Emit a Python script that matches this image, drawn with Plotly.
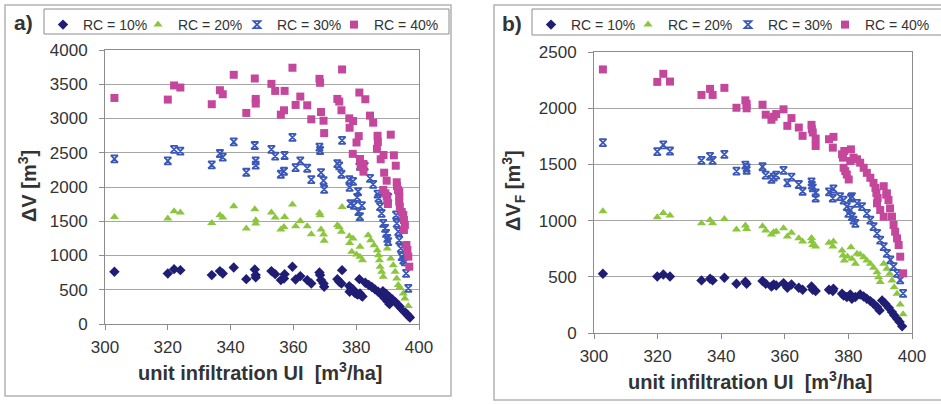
import plotly.graph_objects as go

# ---------------- data: panel a) dV ----------------
rc10_a_x = [303, 320, 322, 324, 334, 336.6, 337.5, 341, 345, 347.7, 348, 348, 353, 354.2, 356, 357, 357.2, 359.7,
            360.7, 362.2, 364.4, 365.7, 368.3, 368.5, 368.8, 369.6, 369.8, 374, 374.6, 375.3, 375.5, 377.8, 378.5,
            379, 377.9, 379.5, 380.1, 380.5, 381.2, 381.7, 382, 381, 382.9, 384, 385, 386, 387, 388, 389, 390,
            390.6, 388.5, 389.5, 390.5, 391.5, 392.5, 393.5, 394.3, 395.2, 396, 396.6, 397.1]
rc10_a_y = [762, 738, 801, 786, 714, 772, 738, 825, 655, 796, 714, 680, 772, 728, 641, 665, 728, 835,
            650, 699, 641, 592, 752, 714, 641, 592, 544, 655, 617, 592, 786, 553, 520,
            505, 471, 456, 440, 430, 447, 410, 400, 655, 602, 570, 540, 505, 470, 430, 380, 330,
            290, 480, 440, 400, 360, 320, 270, 230, 185, 150, 120, 95]

rc20_a_x = [303, 320, 322, 324, 334, 336.6, 337.5, 341, 345, 347.7, 348, 348, 353, 354.2, 356, 357, 357.2, 359.7,
            360.7, 362.2, 364.4, 365.7, 368.3, 368.5, 368.8, 369.6, 369.8, 374, 374.6, 375.3, 375.5, 377.8, 379,
            377.9, 381, 381.2, 378.6, 380.1, 381.2, 382, 383.8, 384.6, 385.7, 386.7, 387.1, 387.4, 387.6, 388.1,
            388.6, 389.9, 391, 391.8, 392.4, 392.9, 393.4, 393.9, 395, 395.5, 396.6]
rc20_a_y = [1563, 1539, 1646, 1626, 1476, 1587, 1553, 1718, 1393, 1675, 1514, 1466, 1626, 1553, 1379, 1417, 1563, 1743,
            1427, 1505, 1427, 1311, 1621, 1587, 1379, 1306, 1214, 1442, 1417, 1345, 1709, 1281, 1247,
            1184, 1529, 1126, 1053, 1014, 980, 932, 1296, 1223, 1150, 1078, 1005, 932, 835, 762,
            689, 1102, 956, 859, 762, 665, 568, 534, 447, 374, 262]

rc30_a_x = [303, 320, 322, 324, 334, 336.6, 337.5, 341, 345, 347.7, 348, 348, 353, 354.2, 356, 357, 357.2, 359.7,
            360.7, 362.2, 364.4, 365.7, 368.3, 368.5, 368.8, 369.6, 369.8, 374, 374.6, 375.3, 375.5, 377.8, 379,
            377.9, 381, 381.2, 380.6, 380.3, 382.7, 384.4, 385.4, 386.8, 387.1, 390.2, 378.2, 379.3, 380.7, 381.2,
            381.8, 387.6, 388.1, 388.6, 389.2, 389.5, 389.9, 390.2, 392.7, 392.9, 393.4, 393.7, 394.2, 394.5,
            395, 395.5, 395.9, 396.6]
rc30_a_y = [2411, 2381, 2548, 2523, 2323, 2489, 2435, 2660, 2215, 2606, 2381, 2318, 2548, 2450, 2186, 2230, 2460, 2724,
            2284, 2381, 2274, 2108, 2582, 2533, 2210, 2093, 1966, 2342, 2308, 2186, 2680, 2108, 2083,
            1995, 2386, 2303, 1931, 1848, 2303, 2127, 2039, 1897, 1839, 1848, 1757, 1733, 1640, 1567,
            1727, 1713, 1616, 1470, 1397, 1324, 1251, 1202, 1591, 1470, 1348, 1226, 1105, 983,
            934, 908, 740, 521]

rc40_a_x = [303, 320, 322, 324, 334, 336.6, 337.5, 341, 345, 347.7, 348, 348, 353, 354.2, 356, 357, 357.2, 359.7,
            360.7, 362.2, 364.4, 365.7, 368.3, 368.5, 368.8, 369.6, 369.8, 374, 374.6, 375.3, 375.5, 377.8, 379,
            377.9, 381, 380.8, 380.1, 378.9, 381.2, 382.3, 381.4, 382.3, 382.9, 384.4, 385.4, 386.8, 386.9, 386.6,
            387.8, 388.7, 388.9, 389.7, 391, 392, 392.6, 392.9, 393, 393.3, 388.6, 389.3, 389.7, 389.9, 390.1,
            393.7, 393.7, 393.7, 393.9, 394.5, 395, 395.2, 395.5, 395.2, 396, 396.3, 396.6, 396.9]
rc40_a_y = [3300, 3276, 3482, 3452, 3208, 3413, 3354, 3638, 3081, 3584, 3286, 3218, 3506, 3403, 3056, 3120, 3403, 3741,
            3198, 3320, 3193, 2988, 3579, 3521, 3095, 2968, 2787, 3286, 3247, 3120, 3716, 3002, 2963,
            2865, 3379, 2743, 2650, 2484, 2409, 2336, 2297, 2224, 3281, 3042, 2939, 2748, 2655, 2557,
            2405, 2467, 2209, 2092, 2764, 2463, 2311, 2069, 2015, 1956, 1956, 1908, 1869, 1810, 1752,
            1927, 1859, 1786, 1713, 1635, 1591, 1518, 1445, 1372, 1153, 1080, 983, 837]

# ---------------- data: panel b) dV_F ----------------
rc10_b_x = [302.8, 319.9, 321.8, 323.9, 333.8, 336.5, 337.3, 341, 344.8, 347.6, 348, 353, 354, 355.8, 356.5, 357.3,
            359.6, 360.8, 362.1, 364.4, 365.6, 368.4, 368.8, 369.7, 373.9, 375.3, 375.1, 378, 378.5, 379.5, 380.6,
            381.1, 382.2, 383.7, 384.8, 385.8, 386.9, 387.9, 389, 389.8, 390.6, 391.6, 392.7, 393.7, 394.4, 395.3,
            396.1, 396.9]
rc10_b_y = [527, 503, 521, 503, 468, 482, 468, 491, 438, 456, 438, 462, 438, 414, 432, 423,
            444, 402, 432, 402, 385, 414, 385, 373, 385, 394, 373, 349, 334, 320, 343,
            305, 320, 343, 325, 305, 284, 260, 231, 201, 290, 260, 225, 186, 157, 127,
            98, 59]

rc20_b_x = [302.8, 319.9, 321.8, 323.9, 333.8, 336.5, 337.3, 341, 344.8, 347.6, 348, 353, 354, 355.8, 356.5, 357.3,
            359.6, 360.8, 362.1, 364.4, 365.6, 368.4, 368.5, 368.8, 369.7, 373.9, 375.3, 375.1, 378, 378.3, 378.7,
            380.8, 379.7, 381.1, 382.2, 382.7, 383.7, 384.8, 385.8, 386.9, 387.9, 389, 389.5, 390, 391.1, 392.1,
            393, 393.7, 394.4, 395.3, 396.3, 397.2]
rc20_b_y = [1083, 1030, 1068, 1045, 977, 1006, 977, 1015, 920, 956, 926, 950, 911, 876, 897, 902,
            932, 858, 891, 843, 814, 846, 817, 784, 769, 802, 814, 769, 734, 689, 645,
            763, 680, 660, 615, 704, 698, 675, 645, 615, 580, 541, 497, 453, 615, 571,
            527, 468, 408, 349, 254, 166]

rc30_b_x = [302.8, 319.9, 321.8, 323.9, 333.8, 336.5, 337.3, 341, 344.8, 347.6, 348, 348, 353, 354, 355.8, 356.5,
            357.3, 359.6, 360.8, 362.1, 364.4, 365.6, 368.4, 368.5, 368.8, 369.7, 369.7, 373.9, 375.3, 375.1, 377.4,
            378.5, 379.5, 380.6, 380, 381.1, 381.6, 382.2, 380.8, 381.1, 382.7, 384.3, 385.8, 386.9, 387.9, 389,
            390, 391.1, 392.1, 393.2, 394.2, 395.3, 396.3, 397.2]
rc30_b_y = [1694, 1613, 1673, 1619, 1536, 1572, 1536, 1590, 1440, 1494, 1470, 1446, 1479, 1404, 1366, 1387,
            1404, 1446, 1336, 1387, 1321, 1261, 1345, 1315, 1291, 1246, 1201, 1255, 1282, 1201, 1213,
            1183, 1124, 1094, 1065, 1035, 1005, 976, 1201, 1213, 1154, 1124, 1065, 1005, 946, 887,
            827, 768, 709, 650, 590, 531, 472, 353]

rc40_b_x = [302.8, 319.9, 321.8, 323.9, 333.8, 336.5, 337.3, 341, 344.8, 347.6, 348, 348, 353, 354, 355.8, 356.5,
            357.3, 359.6, 360.8, 362.1, 364.4, 365.6, 368.4, 368.5, 368.8, 369.7, 369.7, 373.9, 375.3, 375.1, 378,
            378.3, 378.7, 380.8, 378.5, 379, 379.5, 380.1, 380.6, 381.6, 382.7, 383.7, 384.8, 385.8, 386.9, 387.9,
            388.5, 388.8, 389.2, 391.1, 391.9, 389, 390, 391.1, 392.1, 392.6, 393.1, 393.7, 394.2, 394.7, 395.3,
            395.8, 396.3, 397.2]
rc40_b_y = [2345, 2234, 2306, 2237, 2118, 2172, 2118, 2181, 2004, 2070, 2037, 1999, 2031, 1942, 1897, 1924,
            1948, 1990, 1843, 1912, 1828, 1754, 1852, 1813, 1784, 1730, 1664, 1724, 1745, 1649, 1590,
            1560, 1619, 1634, 1470, 1440, 1410, 1366, 1530, 1560, 1545, 1515, 1470, 1425, 1381, 1336,
            1291, 1246, 1201, 1306, 1231, 1154, 1094, 1035, 1243, 1183, 1109, 1035, 961, 901, 842,
            783, 679, 531]

series_names = ["RC = 10%", "RC = 20%", "RC = 30%", "RC = 40%"]
x_ticks = [300, 320, 340, 360, 380, 400]

# ---------------- styling ----------------
W, H = 941, 404
FONT = "Liberation Sans, Arial, sans-serif"
colors = ["#1f1d74", "#8cc63e", "#3b58b8", "#c4479c"]
symbols = ["diamond", "triangle-up", "hourglass-open", "square"]
sizes = [8, 8, 7, 8]

# one single-item legend per series (so entries can sit where the reference has them)
legend_x_px = [[43, 138, 237, 334], [531, 628, 728, 825]]

fig = go.Figure()

panels = [
    (rc10_a_x, rc10_a_y, rc20_a_x, rc20_a_y, rc30_a_x, rc30_a_y, rc40_a_x, rc40_a_y),
    (rc10_b_x, rc10_b_y, rc20_b_x, rc20_b_y, rc30_b_x, rc30_b_y, rc40_b_x, rc40_b_y),
]
for p, data in enumerate(panels):
    xa = "x" if p == 0 else "x2"
    ya = "y" if p == 0 else "y2"
    for i in range(4):
        xs, ys = data[2 * i], data[2 * i + 1]
        mk = dict(symbol=symbols[i], size=sizes[i], color=colors[i])
        if i == 2:
            mk["line"] = dict(color=colors[i], width=1.8)
        else:
            mk["line"] = dict(width=0)
        k = p * 4 + i + 1
        lg = "legend" if k == 1 else f"legend{k}"
        fig.add_trace(go.Scatter(x=xs, y=ys, mode="markers", name=series_names[i],
                                 marker=mk, xaxis=xa, yaxis=ya, legend=lg))

def px_x(v):
    return v / W

def px_y(v):
    return 1 - v / H

axis_common = dict(showline=True, linecolor="#8c8c8c", linewidth=1, mirror=True,
                   ticks="outside", ticklen=5, tickcolor="#8c8c8c",
                   tickfont=dict(family=FONT, size=17, color="#333333"), zeroline=False)

legend_common = dict(orientation="h", xanchor="left", yanchor="top",
                     borderwidth=0, bgcolor="rgba(0,0,0,0)",
                     font=dict(family=FONT, size=14, color="#333333"),
                     itemwidth=30, tracegroupgap=0)

layout_legends = {}
for p in range(2):
    for i in range(4):
        k = p * 4 + i + 1
        key = "legend" if k == 1 else f"legend{k}"
        layout_legends[key] = dict(x=px_x(legend_x_px[p][i]), y=px_y(9), **legend_common)

fig.update_layout(
    width=W, height=H,
    margin=dict(l=0, r=0, t=0, b=0, autoexpand=False),
    paper_bgcolor="white", plot_bgcolor="white",
    xaxis=dict(domain=[px_x(105), px_x(419)], range=[300, 400], tickvals=x_ticks,
               showgrid=False, anchor="y", ticklabelstandoff=3, **axis_common),
    yaxis=dict(domain=[px_y(324), px_y(50)], range=[0, 4000], dtick=500, showgrid=True,
               gridcolor="#a6a6a6", gridwidth=1, anchor="x", ticklabelstandoff=8, **axis_common),
    xaxis2=dict(domain=[px_x(594), px_x(912)], range=[300, 400], tickvals=x_ticks,
                showgrid=False, anchor="y2", ticklabelstandoff=3, **axis_common),
    yaxis2=dict(domain=[px_y(333), px_y(52)], range=[0, 2500], dtick=500, showgrid=True,
                gridcolor="#a6a6a6", gridwidth=1, anchor="x2", ticklabelstandoff=8, **axis_common),
    showlegend=True,
    **layout_legends,
)

# panel frames and legend boxes
fig.add_shape(type="rect", xref="paper", yref="paper", x0=px_x(5), x1=px_x(451), y0=px_y(396), y1=px_y(5),
              line=dict(color="#b3b3b3", width=1.5), layer="below")
fig.add_shape(type="rect", xref="paper", yref="paper", x0=px_x(494), x1=px_x(945), y0=px_y(400), y1=px_y(5),
              line=dict(color="#b3b3b3", width=1.5), layer="below")
fig.add_shape(type="rect", xref="paper", yref="paper", x0=px_x(44), x1=px_x(449), y0=px_y(34), y1=px_y(9),
              line=dict(color="#8c8c8c", width=1), layer="below")
fig.add_shape(type="rect", xref="paper", yref="paper", x0=px_x(532), x1=px_x(945), y0=px_y(35), y1=px_y(9),
              line=dict(color="#8c8c8c", width=1), layer="below")

tfont = dict(family=FONT, size=20, color="#333333")
ann = [
    dict(text="<b>a)</b>", x=px_x(23), y=px_y(22), font=dict(family=FONT, size=21, color="#333333")),
    dict(text="<b>b)</b>", x=px_x(512), y=px_y(23), font=dict(family=FONT, size=21, color="#333333")),
    dict(text="<b>unit infiltration UI&nbsp; [m<sup>3</sup>/ha]</b>", x=px_x(260), y=px_y(371), font=tfont),
    dict(text="<b>unit infiltration UI&nbsp; [m<sup>3</sup>/ha]</b>", x=px_x(750), y=px_y(380), font=tfont),
    dict(text="<b>ΔV [m<sup>3</sup>]</b>", x=px_x(27), y=px_y(186), textangle=-90, font=tfont),
    dict(text="<b>ΔV<sub>F</sub> [m<sup>3</sup>]</b>", x=px_x(513), y=px_y(191), textangle=-90, font=tfont),
]
for a in ann:
    fig.add_annotation(xref="paper", yref="paper", showarrow=False, xanchor="center", yanchor="middle", **a)

fig.write_html("out.html", config={"displayModeBar": False},
               post_script="document.body.style.margin='0px';document.body.style.padding='0px';")
